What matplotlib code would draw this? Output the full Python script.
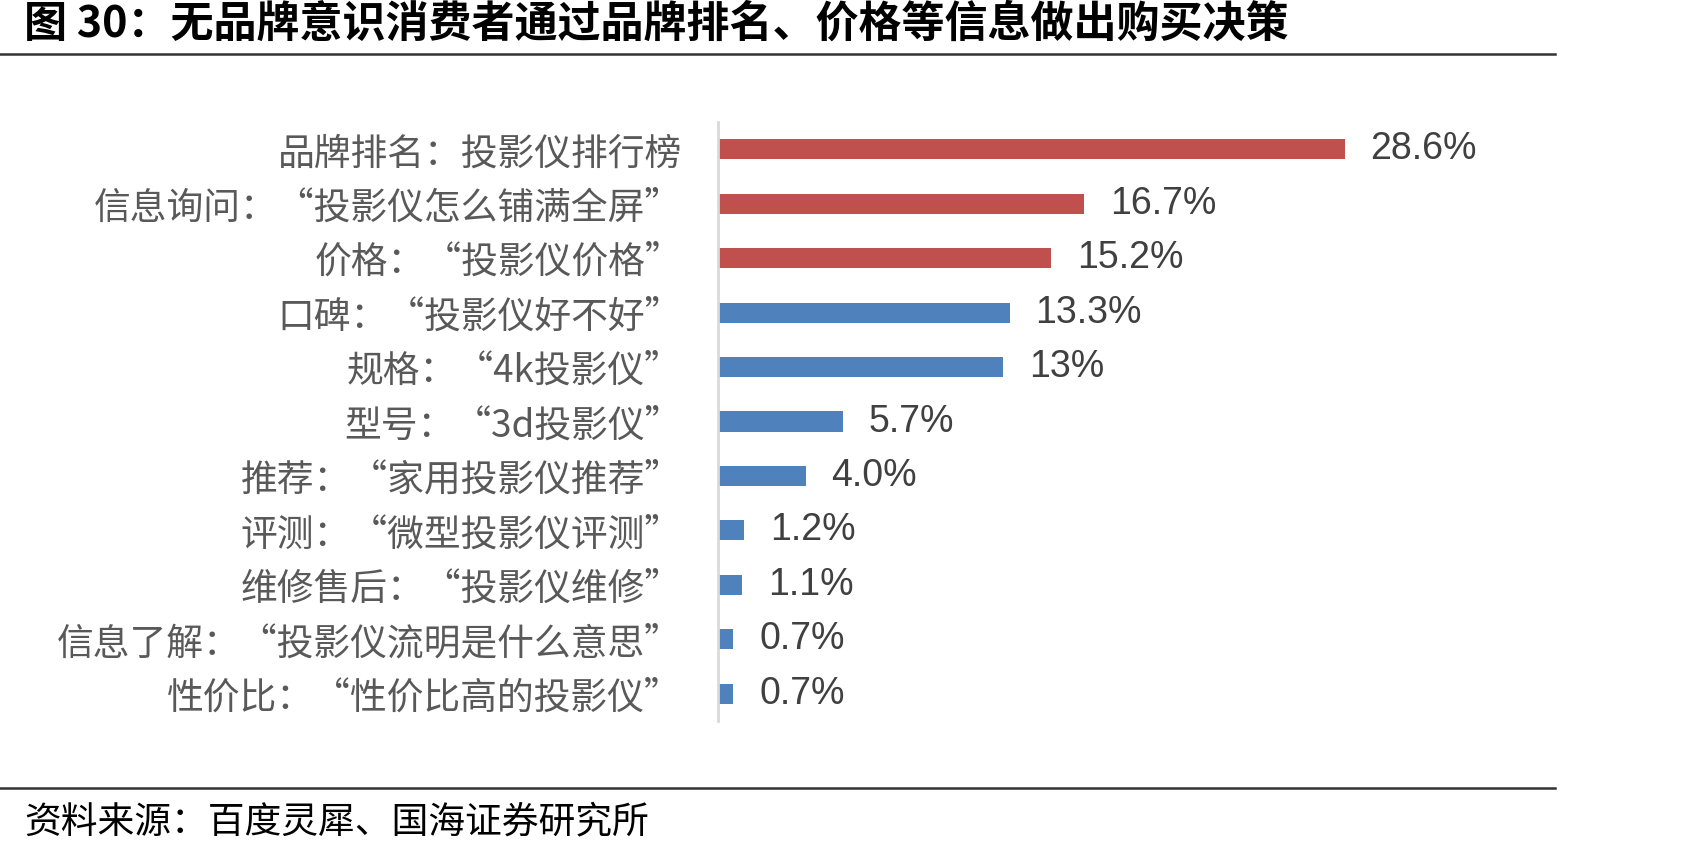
import matplotlib
matplotlib.use("Agg")
import matplotlib.pyplot as plt
from matplotlib.lines import Line2D

plt.rcParams['font.family'] = ['Noto Sans CJK SC', 'DejaVu Sans']

categories = [
    "品牌排名：投影仪排行榜",
    "信息询问：“投影仪怎么铺满全屏”",
    "价格：“投影仪价格”",
    "口碑：“投影仪好不好”",
    "规格：“4k投影仪”",
    "型号：“3d投影仪”",
    "推荐：“家用投影仪推荐”",
    "评测：“微型投影仪评测”",
    "维修售后：“投影仪维修”",
    "信息了解：“投影仪流明是什么意思”",
    "性价比：“性价比高的投影仪”",
]
values = [28.6, 16.7, 15.2, 13.3, 13.0, 5.7, 4.0, 1.2, 1.1, 0.7, 0.7]
value_labels = ["28.6%", "16.7%", "15.2%", "13.3%", "13%", "5.7%", "4.0%", "1.2%", "1.1%", "0.7%", "0.7%"]
highlight_count = 3

title = "图 30：无品牌意识消费者通过品牌排名、价格等信息做出购买决策"
source = "资料来源：百度灵犀、国海证券研究所"

RED = "#C0504D"
BLUE = "#4F81BD"

W, H = 1690, 855
fig = plt.figure(figsize=(W / 100, H / 100), dpi=100)

ax_left = 718 / W
ax_bottom = (H - 721) / H
ax_top = (H - 122) / H
xmax = 40
ax_width = xmax * 21.92 / W
ax = fig.add_axes([ax_left, ax_bottom, ax_width, ax_top - ax_bottom])

n = len(categories)
ypos = list(range(n))
colors = [RED if i < highlight_count else BLUE for i in range(n)]
ax.barh(ypos, values, height=0.37, color=colors, zorder=2)
ax.set_ylim(n - 0.5, -0.5)
ax.set_xlim(0, xmax)

for y, v, lab in zip(ypos, values, value_labels):
    ax.annotate(lab, xy=(v, y), xytext=(18.5, 0), textcoords="offset points",
                va="center", ha="left", fontsize=27, color="#404040",
                family=["Liberation Sans", "DejaVu Sans"])

ax.set_yticks(ypos)
ax.set_yticklabels(categories, fontsize=26.5, color="#595959")
ax.tick_params(axis="y", length=0, pad=26)
ax.set_xticks([])
for s in ["top", "right", "bottom"]:
    ax.spines[s].set_visible(False)
ax.spines["left"].set_color("#D9D9D9")
ax.spines["left"].set_linewidth(2)

fig.text(24 / W, 1 - 24 / H, title, fontsize=31, fontweight="bold", color="black",
         ha="left", va="center")
fig.add_artist(Line2D([0, 1555 / W], [1 - 54 / H] * 2, color="#333333", lw=1.8,
                      transform=fig.transFigure))
fig.add_artist(Line2D([0, 1555 / W], [1 - 788 / H] * 2, color="#333333", lw=1.8,
                      transform=fig.transFigure))
fig.text(24 / W, 1 - 822 / H, source, fontsize=26.5, color="black", ha="left", va="center")

fig.savefig("out.png", dpi=100)
